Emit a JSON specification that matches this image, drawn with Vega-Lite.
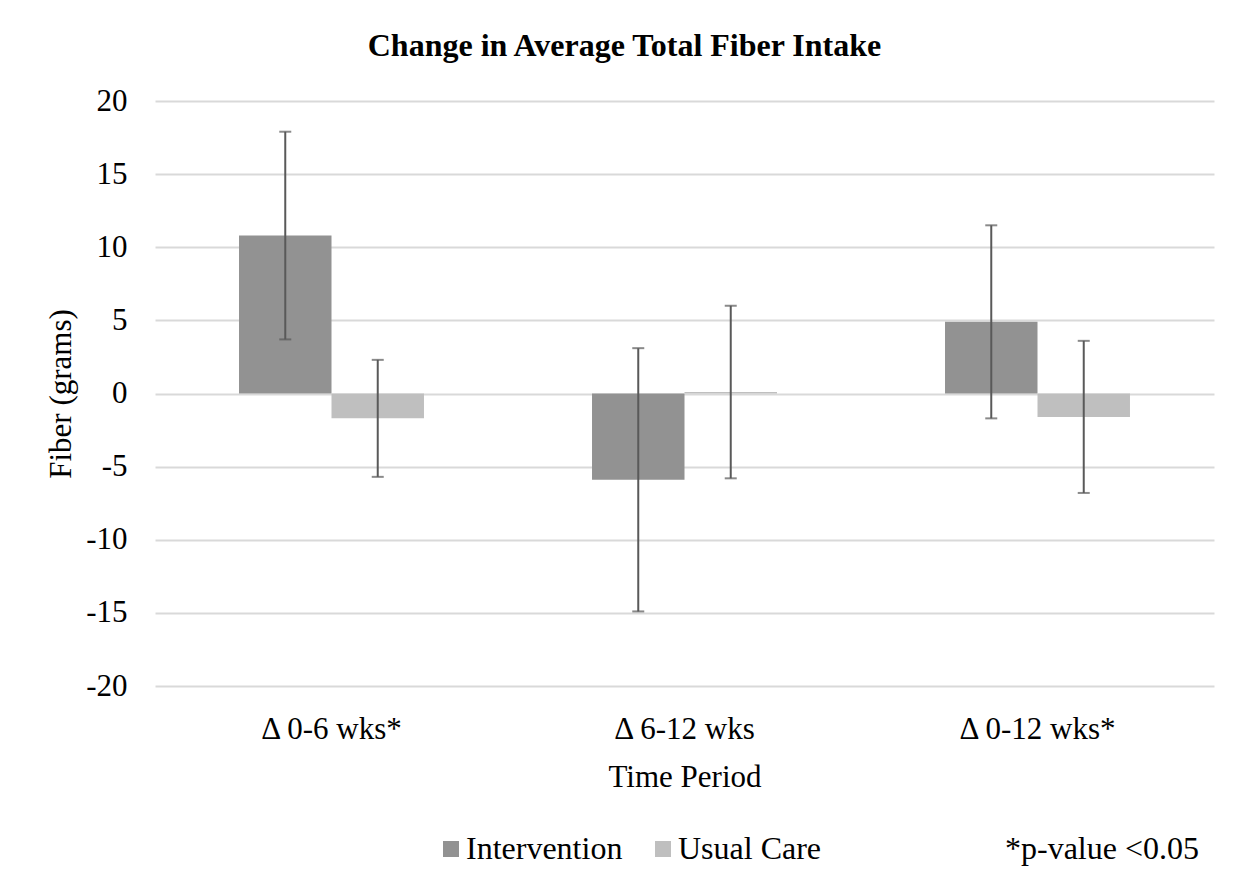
{
  "$schema": "https://vega.github.io/schema/vega-lite/v6.json",
  "width": 1059,
  "height": 585,
  "autosize": {"type": "none"},
  "padding": {"left": 155, "top": 101, "right": 30, "bottom": 198},
  "background": "white",
  "config": {"view": {"stroke": null}, "font": "Liberation Serif"},
  "title": {
    "text": "Change in Average Total Fiber Intake",
    "fontSize": 32,
    "fontWeight": "bold",
    "font": "Liberation Serif",
    "color": "black",
    "offset": 22,
    "dx": -60
  },
  "data": {
    "values": [
      {"period": "Δ 0-6 wks*", "group": "Intervention", "mean": 10.8, "lo": 3.7, "hi": 17.9},
      {"period": "Δ 0-6 wks*", "group": "Usual Care", "mean": -1.7, "lo": -5.7, "hi": 2.3},
      {"period": "Δ 6-12 wks", "group": "Intervention", "mean": -5.9, "lo": -14.9, "hi": 3.1},
      {"period": "Δ 6-12 wks", "group": "Usual Care", "mean": 0.1, "lo": -5.8, "hi": 6.0},
      {"period": "Δ 0-12 wks*", "group": "Intervention", "mean": 4.9, "lo": -1.7, "hi": 11.5},
      {"period": "Δ 0-12 wks*", "group": "Usual Care", "mean": -1.6, "lo": -6.8, "hi": 3.6}
    ]
  },
  "encoding": {
    "x": {
      "field": "period",
      "type": "nominal",
      "sort": ["Δ 0-6 wks*", "Δ 6-12 wks", "Δ 0-12 wks*"],
      "scale": {"paddingInner": 0.476, "paddingOuter": 0.238},
      "axis": {
        "labelAngle": 0,
        "ticks": false,
        "domain": false,
        "labelPadding": 28,
        "labelFontSize": 31,
        "labelColor": "black",
        "title": "Time Period",
        "titleFontSize": 31,
        "titleFontWeight": "normal",
        "titleColor": "black",
        "titlePadding": 18
      }
    },
    "xOffset": {
      "field": "group",
      "type": "nominal",
      "sort": ["Intervention", "Usual Care"],
      "scale": {"paddingInner": 0, "paddingOuter": 0}
    }
  },
  "layer": [
    {
      "mark": {"type": "bar"},
      "encoding": {
        "y": {
          "field": "mean",
          "type": "quantitative",
          "scale": {"domain": [-20, 20], "nice": false},
          "axis": {
            "values": [-20, -15, -10, -5, 0, 5, 10, 15, 20],
            "labelExpr": "'' + datum.value",
            "grid": true,
            "gridColor": "#d9d9d9",
            "gridWidth": 2,
            "domain": false,
            "ticks": false,
            "labelFontSize": 31,
            "labelColor": "black",
            "labelPadding": 28,
            "title": "Fiber (grams)",
            "titleFontSize": 31,
            "titleFontWeight": "normal",
            "titleColor": "black",
            "titlePadding": 8
          }
        },
        "color": {
          "field": "group",
          "type": "nominal",
          "scale": {"domain": ["Intervention", "Usual Care"], "range": ["#929292", "#bfbfbf"]},
          "legend": {
            "orient": "none",
            "legendX": 280,
            "legendY": 732,
            "direction": "horizontal",
            "padding": 0,
            "symbolType": "square",
            "symbolSize": 256,
            "symbolStrokeWidth": 0,
            "symbolOpacity": 1,
            "labelFontSize": 32,
            "labelColor": "black",
            "labelOffset": -1,
            "labelLimit": 400,
            "columnPadding": 24,
            "title": "*p-value <0.05",
            "titleOrient": "right",
            "titlePadding": 184,
            "titleLimit": 400,
            "titleFontSize": 32,
            "titleFontWeight": "normal",
            "titleColor": "black"
          }
        }
      }
    },
    {
      "mark": {"type": "rule", "color": "#595959", "strokeWidth": 2},
      "encoding": {
        "y": {"field": "lo", "type": "quantitative"},
        "y2": {"field": "hi"}
      }
    },
    {
      "mark": {"type": "tick", "color": "#595959", "thickness": 2, "size": 12, "orient": "horizontal"},
      "encoding": {"y": {"field": "lo", "type": "quantitative"}}
    },
    {
      "mark": {"type": "tick", "color": "#595959", "thickness": 2, "size": 12, "orient": "horizontal"},
      "encoding": {"y": {"field": "hi", "type": "quantitative"}}
    }
  ]
}
